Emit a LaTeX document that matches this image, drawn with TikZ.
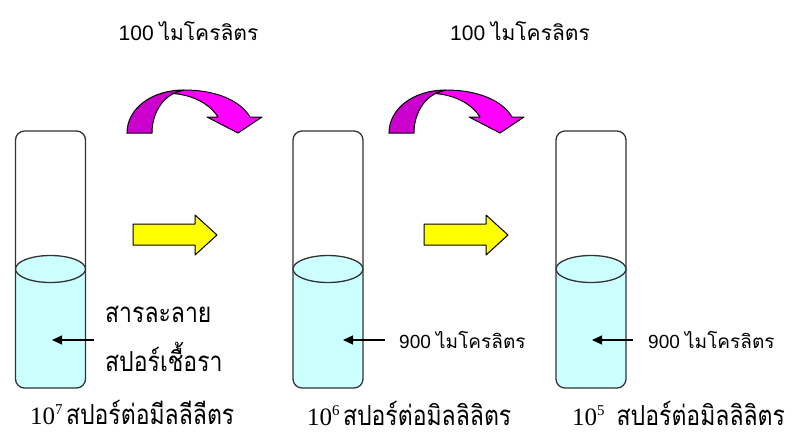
\documentclass[tikz,border=0pt]{standalone}
\usepackage{fontspec}
\usepackage{graphicx}
\usetikzlibrary{arrows.meta}
\newfontfamily\thai[Script=Thai]{Loma}
\newfontfamily\lsans{Liberation Sans}
\newfontfamily\lserif{Liberation Serif}
\definecolor{liquid}{HTML}{CCFFFF}
\definecolor{mgdark}{HTML}{CC00CC}
\definecolor{mglight}{HTML}{FF00FF}
\definecolor{yfill}{HTML}{FFFF00}
\tikzset{
  tubebox/.style={draw=black!80, line width=1.3pt, rounded corners=9pt,
    minimum width=70pt, minimum height=257pt, inner sep=0pt},
  surface/.style={draw=black!80, line width=1.3pt, fill=liquid},
  pointer/.style={draw=black, line width=1.3pt, -{Triangle[length=10pt,width=9pt]}},
  pour/.style={draw=black, line width=1pt, fill=yfill, line join=round},
  volume/.style={inner sep=0pt, anchor=base west},
  toplabel/.style={inner sep=0pt, anchor=base},
  countlabel/.style={inner sep=0pt, anchor=base west},
  bend arrow/.pic={
    \filldraw[draw=black, line width=1pt, fill=mgdark]
      (0,0) .. controls (0,-24) and (24,-43) .. (57,-43)
      .. controls (38,-40) and (25,-22) .. (25,0) -- cycle;
    \filldraw[draw=black, line width=1pt, fill=mglight, line join=round]
      (57,-43) .. controls (88,-43) and (113,-33) .. (123,-16)
      -- (135,-16) -- (111,0) -- (80,-16) -- (91,-16)
      .. controls (82,-30) and (65,-38) .. (46,-39.5) -- cycle;
  }
}
% Thai text, stretched upward
\newcommand{\tm}[1]{{\thai #1}}
\newcommand{\tall}[2]{\scalebox{1}[1.2]{\thai\fontsize{#1}{#1}\selectfont #2}}
\begin{document}
\begin{tikzpicture}[x=1pt, y=-1pt]
\useasboundingbox (0,0) rectangle (793,437);

% three test tubes: liquid, outline, liquid surface
\foreach \n/\xl in {1/15.5, 2/293, 3/556}{
  \begin{scope}
    \clip[rounded corners=9pt] (\xl,131) rectangle ++(70,257);
    \fill[liquid] (\xl,269) rectangle ++(70,130);
  \end{scope}
  \node[tubebox] (tube\n) at (\xl+35,259.5) {};
  \draw[surface] (\xl+35,269) ellipse [x radius=35, y radius=13.5];
}

% transfer arrows (pipette volume)
\pic at (127,133) {bend arrow};
\pic at (389,133) {bend arrow};
\node[toplabel] (vol1) at (188.5,40) {{\lsans\fontsize{21}{24}\selectfont 100 }\tm{\fontsize{21}{24}\selectfont ไมโครลิตร}};
\node[toplabel] (vol2) at (520,40) {{\lsans\fontsize{21}{24}\selectfont 100 }\tm{\fontsize{21}{24}\selectfont ไมโครลิตร}};

% dilution step arrows
\draw[pour] (133,224) -- (195,224) -- (195,215) -- (217,235) -- (195,255)
  -- (195,245) -- (133,245) -- cycle;
\draw[pour] (424,224) -- (486,224) -- (486,215) -- (508,235) -- (486,255)
  -- (486,245) -- (424,245) -- cycle;

% contents of each tube
\node[volume] (sol) at (105,322) {\tall{23}{สารละลาย}};
\node[volume] (spore) at (105,371) {\tall{23}{สปอร์เชื้อรา}};
\coordinate (p1s) at (94,340);
\coordinate (p1e) at (52,340);
\draw[pointer] (p1s) -- (p1e);

\node[volume] (w2) at (399,348) {{\lsans\fontsize{19}{22}\selectfont 900 }\tm{\fontsize{19}{22}\selectfont ไมโครลิตร}};
\coordinate (p2e) at (343,340);
\draw[pointer] (w2.west |- p2e) ++(-14,0) -- (p2e);

\node[volume] (w3) at (648,348) {{\lsans\fontsize{19}{22}\selectfont 900 }\tm{\fontsize{19}{22}\selectfont ไมโครลิตร}};
\coordinate (p3e) at (592,340);
\draw[pointer] (w3.west |- p3e) ++(-15,0) -- (p3e);

% spore concentrations
\node[countlabel] (c1) at (30,424) {{\lserif\fontsize{25}{28}\selectfont 10\raisebox{10pt}{\fontsize{15}{18}\selectfont 7}} \tall{23}{สปอร์ต่อมีลลีลีตร}};
\node[countlabel] (c2) at (307,425) {{\lserif\fontsize{25}{28}\selectfont 10\raisebox{10pt}{\fontsize{15}{18}\selectfont 6}} \tall{23}{สปอร์ต่อมิลลิลิตร}};
\node[countlabel] (c3) at (572,425) {{\lserif\fontsize{25}{28}\selectfont 10\raisebox{10pt}{\fontsize{15}{18}\selectfont 5}}\hspace{12pt}\tall{23}{สปอร์ต่อมิลลิลิตร}};
\end{tikzpicture}
\end{document}
